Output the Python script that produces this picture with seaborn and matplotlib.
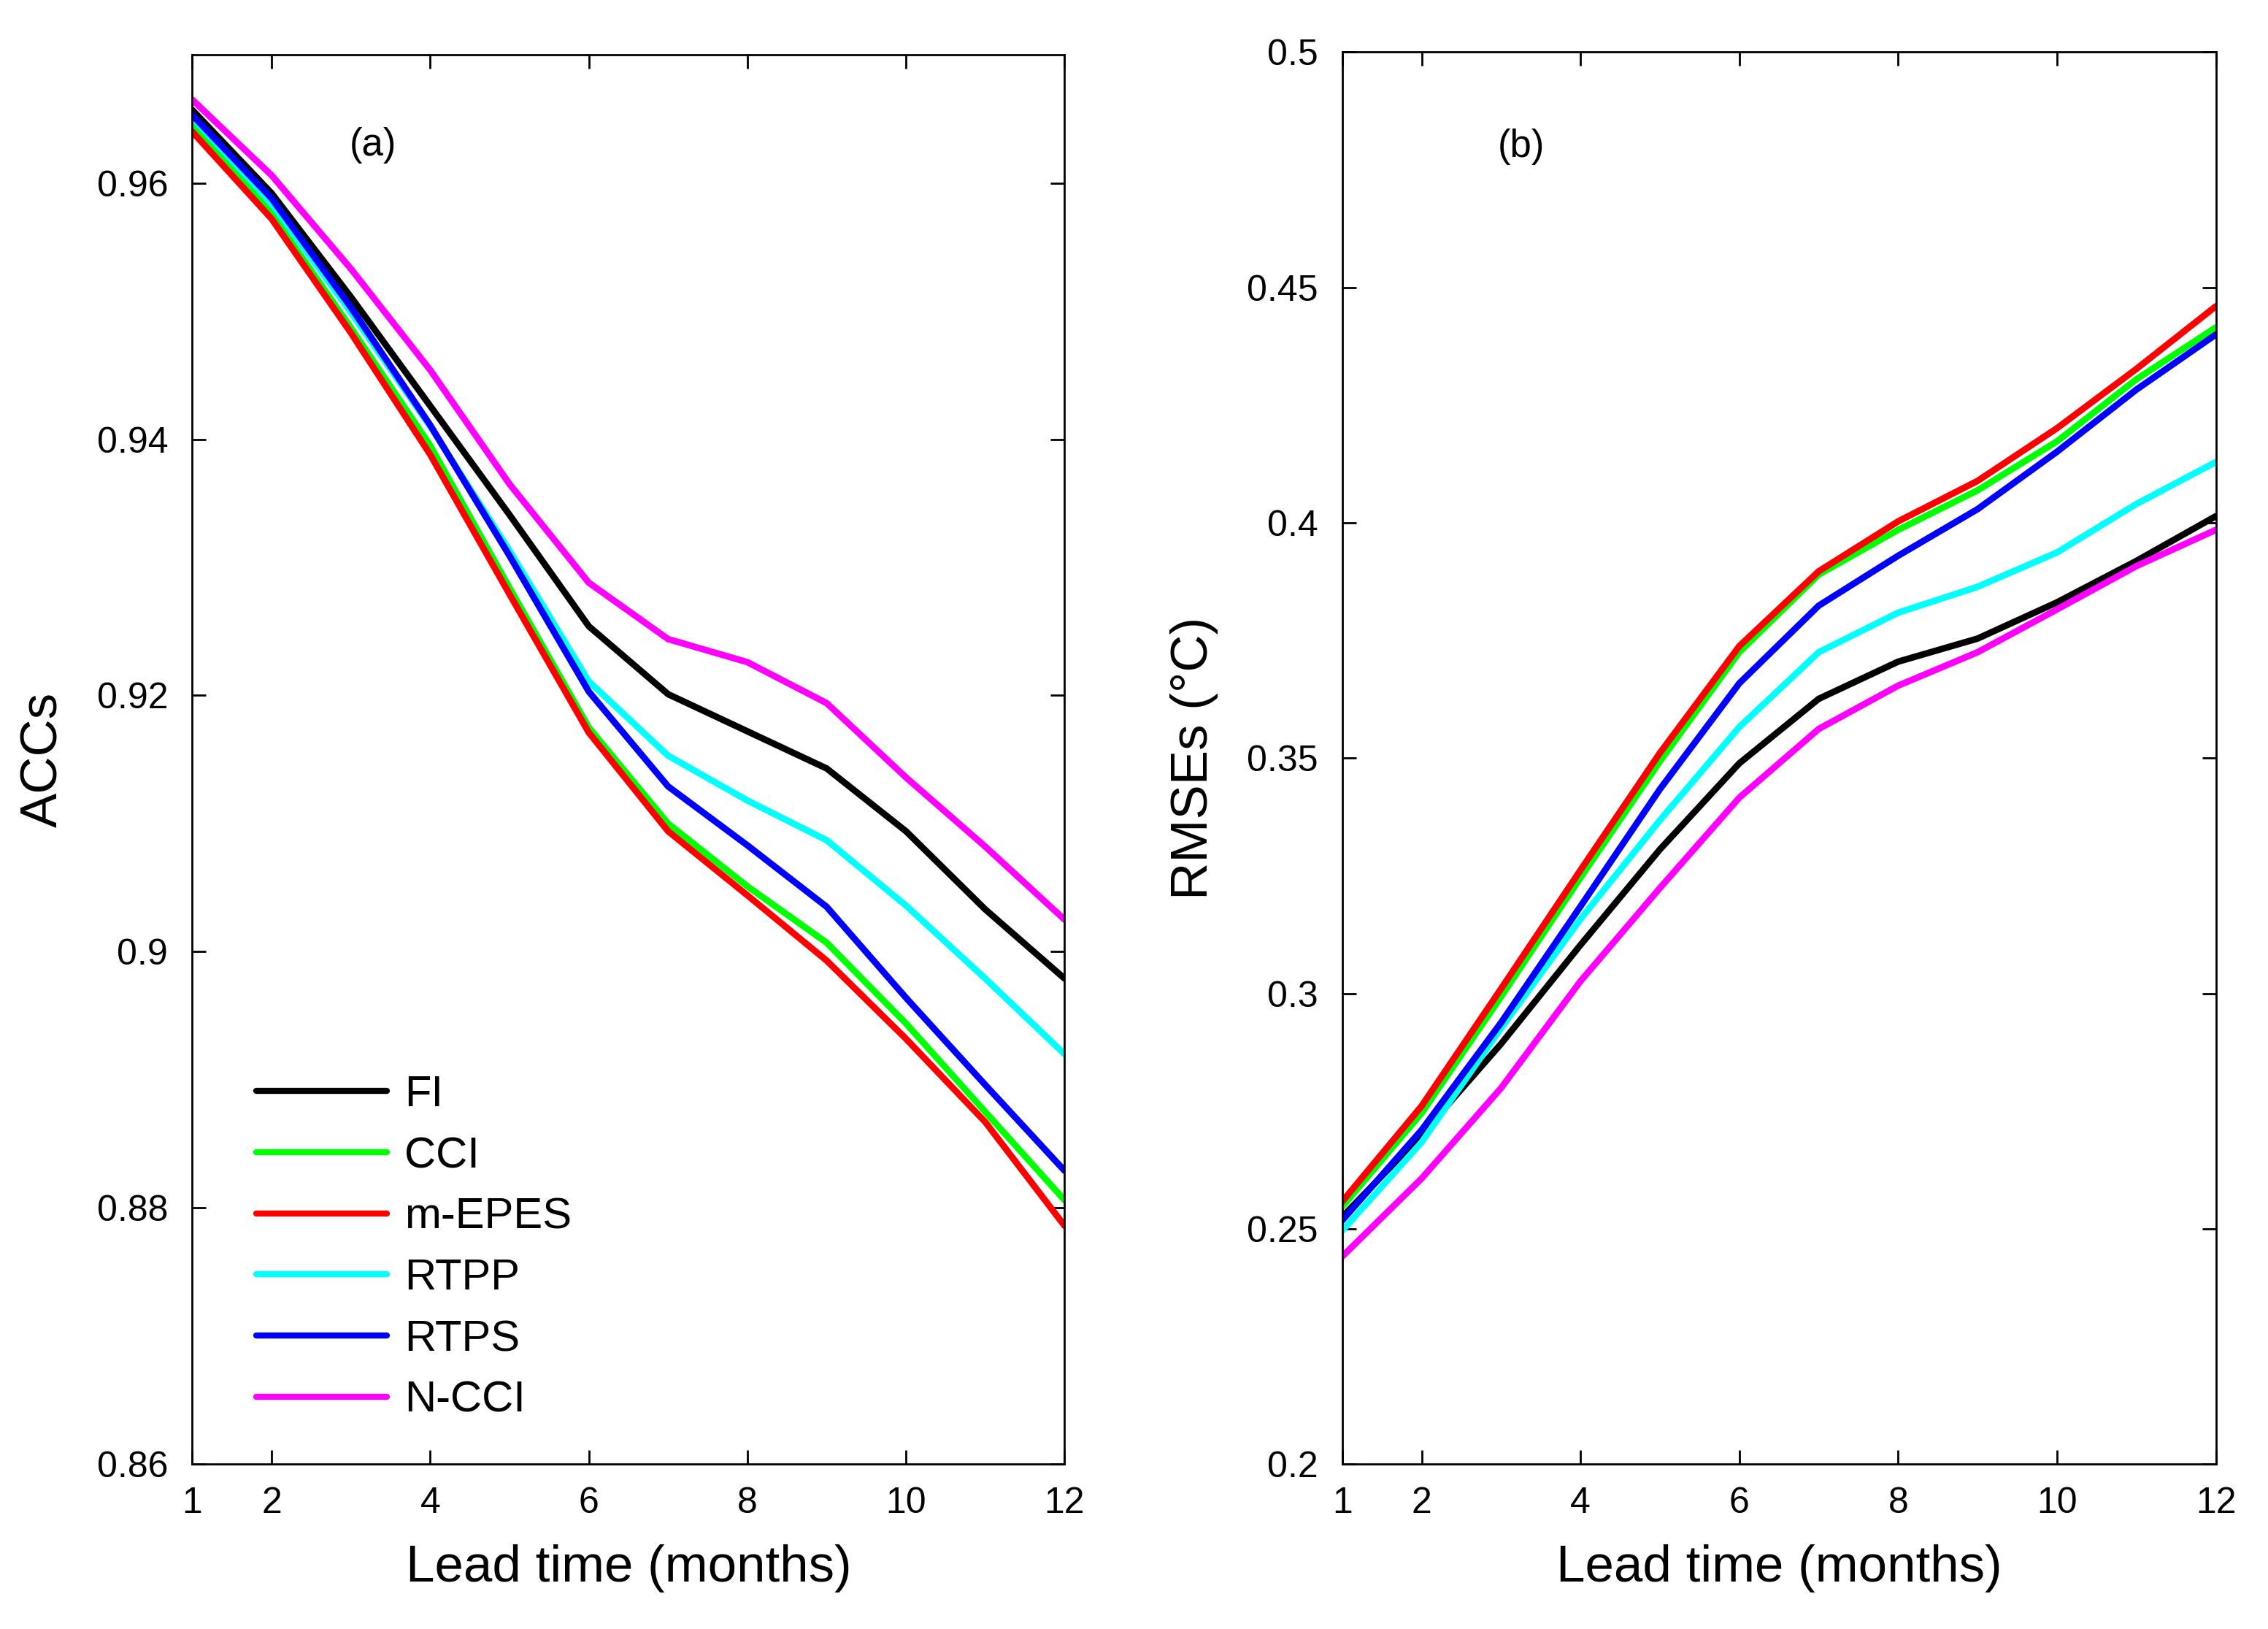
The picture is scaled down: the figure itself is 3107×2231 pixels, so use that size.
import numpy as np
import pandas as pd
import matplotlib
matplotlib.use("Agg")
import matplotlib.pyplot as plt
import seaborn as sns

# lead time in months
lead = [1, 2, 3, 4, 5, 6, 7, 8, 9, 10, 11, 12]
methods = ["FI", "CCI", "m-EPES", "RTPP", "RTPS", "N-CCI"]
colors = ["#000000", "#00ff00", "#ff0000", "#00ffff", "#0000ff", "#ff00ff"]

# (a) anomaly correlation coefficients
acc_fi = [0.9657, 0.9592, 0.9511, 0.9426, 0.9341, 0.9254, 0.9201, 0.9172, 0.9143, 0.9094, 0.9033, 0.8979]
acc_cci = [0.9646, 0.9576, 0.9487, 0.9395, 0.9284, 0.9175, 0.9100, 0.9051, 0.9007, 0.8944, 0.8875, 0.8806]
acc_mepes = [0.9640, 0.9572, 0.9483, 0.9388, 0.9279, 0.9171, 0.9094, 0.9044, 0.8993, 0.8932, 0.8867, 0.8786]
acc_rtpp = [0.9651, 0.9584, 0.9499, 0.9410, 0.9313, 0.9211, 0.9153, 0.9118, 0.9087, 0.9036, 0.8979, 0.8920]
acc_rtps = [0.9653, 0.9588, 0.9503, 0.9411, 0.9309, 0.9203, 0.9129, 0.9083, 0.9035, 0.8964, 0.8896, 0.8829]
acc_ncci = [0.9665, 0.9606, 0.9533, 0.9454, 0.9365, 0.9288, 0.9244, 0.9226, 0.9194, 0.9136, 0.9082, 0.9025]

# (b) root mean square errors
rmse_fi = [0.2525, 0.2700, 0.2893, 0.3103, 0.3306, 0.3489, 0.3626, 0.3705, 0.3754, 0.3831, 0.3919, 0.4014]
rmse_cci = [0.2547, 0.2746, 0.2993, 0.3246, 0.3493, 0.3725, 0.3890, 0.3985, 0.4069, 0.4173, 0.4305, 0.4415]
rmse_mepes = [0.2558, 0.2761, 0.3010, 0.3262, 0.3511, 0.3738, 0.3897, 0.4003, 0.4089, 0.4201, 0.4327, 0.4460]
rmse_rtpp = [0.2496, 0.2684, 0.2926, 0.3158, 0.3368, 0.3566, 0.3725, 0.3809, 0.3864, 0.3937, 0.4040, 0.4129]
rmse_rtps = [0.2518, 0.2710, 0.2938, 0.3185, 0.3434, 0.3659, 0.3824, 0.3930, 0.4029, 0.4151, 0.4283, 0.4400]
rmse_ncci = [0.2441, 0.2607, 0.2799, 0.3026, 0.3224, 0.3416, 0.3562, 0.3654, 0.3725, 0.3816, 0.3908, 0.3985]

acc_ticks = [0.86, 0.88, 0.9, 0.92, 0.94, 0.96]
acc_ticklabels = ["0.86", "0.88", "0.9", "0.92", "0.94", "0.96"]
rmse_ticks = [0.2, 0.25, 0.3, 0.35, 0.4, 0.45, 0.5]
rmse_ticklabels = ["0.2", "0.25", "0.3", "0.35", "0.4", "0.45", "0.5"]
x_ticks = [1, 2, 4, 6, 8, 10, 12]


def to_long(series):
    rows = []
    for name, vals in zip(methods, series):
        for m, v in zip(lead, vals):
            rows.append({"lead": m, "method": name, "value": v})
    return pd.DataFrame(rows)


df_acc = to_long([acc_fi, acc_cci, acc_mepes, acc_rtpp, acc_rtps, acc_ncci])
df_rmse = to_long([rmse_fi, rmse_cci, rmse_mepes, rmse_rtpp, rmse_rtps, rmse_ncci])

sns.set_style("ticks", {"axes.edgecolor": "black", "text.color": "black",
                        "axes.labelcolor": "black", "xtick.color": "black",
                        "ytick.color": "black"})
plt.rcParams["font.family"] = ["Liberation Sans", "DejaVu Sans"]
plt.rcParams["xtick.direction"] = "in"
plt.rcParams["ytick.direction"] = "in"

fig = plt.figure(figsize=(15.535, 11.155), dpi=200)
ax1 = fig.add_axes([0.0848, 0.1012, 0.3846, 0.8651])
ax2 = fig.add_axes([0.5918, 0.1012, 0.3852, 0.8668])

pal = dict(zip(methods, colors))
sns.lineplot(data=df_acc, x="lead", y="value", hue="method", hue_order=methods,
             palette=pal, linewidth=3.2, ax=ax1)
sns.lineplot(data=df_rmse, x="lead", y="value", hue="method", hue_order=methods,
             palette=pal, linewidth=3.2, ax=ax2, legend=False)

for ax in (ax1, ax2):
    ax.set_xlim(1, 12)
    ax.set_xticks(x_ticks)
    ax.set_xlabel("Lead time (months)", fontsize=25.5, labelpad=12)
    ax.tick_params(axis="both", which="both", top=True, right=True, length=7,
                   width=1.0, labelsize=18, colors="black")
    ax.tick_params(axis="x", pad=11)
    ax.tick_params(axis="y", pad=12)
    for s in ax.spines.values():
        s.set_linewidth(1.0)
        s.set_color("black")
        s.set_visible(True)

ax1.set_ylim(0.86, 0.97)
ax1.set_yticks(acc_ticks)
ax1.set_yticklabels(acc_ticklabels)
ax1.set_ylabel("ACCs", fontsize=25.5, labelpad=14)
ax1.text(0.207, 0.936, "(a)", transform=ax1.transAxes, fontsize=19, ha="center", va="center")

ax2.set_ylim(0.2, 0.5)
ax2.set_yticks(rmse_ticks)
ax2.set_yticklabels(rmse_ticklabels)
ax2.set_ylabel("RMSEs (°C)", fontsize=25.5, labelpad=14)
ax2.text(0.205, 0.933, "(b)", transform=ax2.transAxes, fontsize=19, ha="center", va="center")

leg = ax1.legend(loc="lower left", bbox_to_anchor=(0.028, 0.003), frameon=False,
                 fontsize=21.5, handlelength=3.0, handletextpad=0.4, labelspacing=0.48)
for h in leg.get_lines():
    h.set_linewidth(3.0)

fig.savefig("out.png", dpi=200)
